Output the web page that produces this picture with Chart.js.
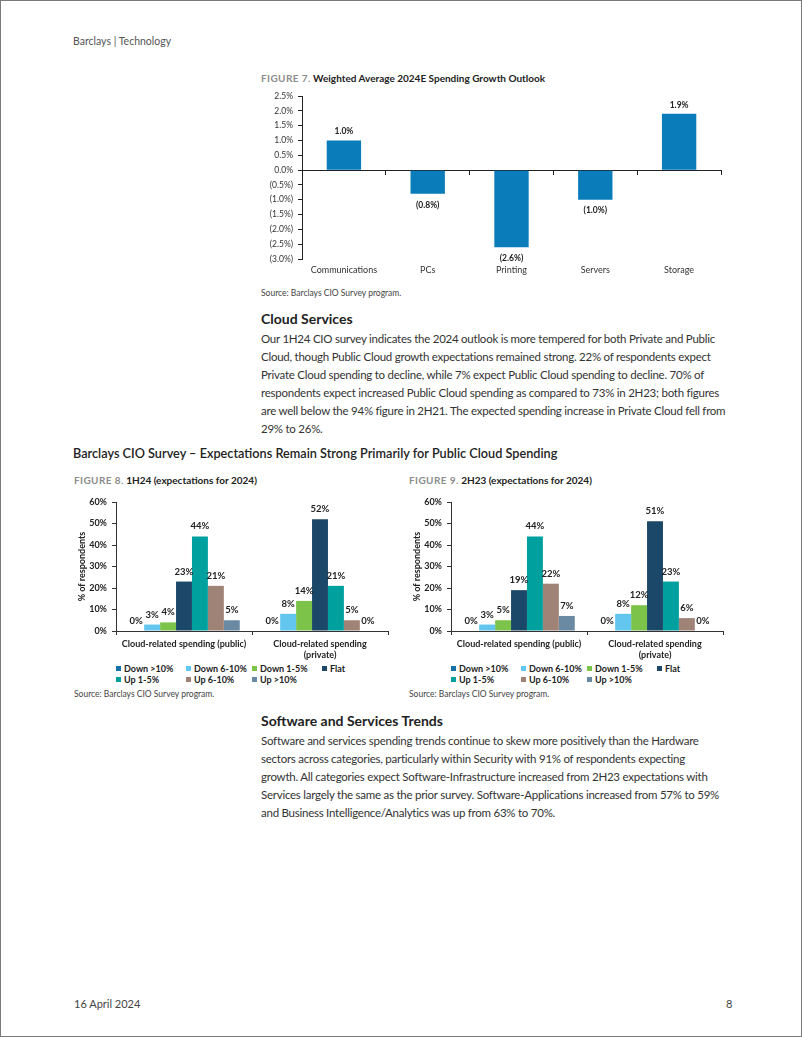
<!DOCTYPE html>
<html lang="en">
  <head>
    <meta charset="UTF-8" />
    <title>Barclays | Technology - page 8</title>
    <style>
      body {
        margin: 0;
        background: #fff;
        font-family: Lato, "Open Sans", sans-serif;
        color: #333;
      }
      .page {
        position: relative;
        width: 800px;
        height: 1035px;
        border: 1px solid #7a7a7a;
        overflow: hidden;
      }
      .abs {
        position: absolute;
        white-space: nowrap;
      }
      .header {
        left: 72px;
        top: 34px;
        font-size: 10.5px;
        color: #555;
      }
      .fig-title {
        font-size: 10px;
        font-weight: bold;
        color: #222;
      }
      .fig-title .num {
        color: #8c8c8c;
        letter-spacing: 0.4px;
      }
      .source {
        font-size: 8.5px;
        color: #444;
      }
      h2 {
        margin: 0;
        font-size: 14px;
        font-weight: bold;
        color: #222;
      }
      .para {
        font-size: 11.5px;
        line-height: 18px;
        letter-spacing: -0.25px;
        color: #333;
      }
      .section {
        left: 72px;
        top: 444px;
        font-size: 12.7px;
        font-weight: 600;
        color: #222;
      }
      canvas {
        position: absolute;
      }
      .legend {
        position: absolute;
        display: grid;
        grid-template-columns: 70px 66px 70px 50px;
        grid-auto-rows: 11px;
        font-size: 9px;
        font-weight: bold;
        color: #222;
      }
      .legend span {
        display: flex;
        align-items: center;
        white-space: nowrap;
      }
      .legend i {
        display: inline-block;
        width: 5px;
        height: 5px;
        margin-right: 3px;
      }
      .footer {
        top: 996px;
        font-size: 11px;
        color: #444;
      }
    </style>
  </head>
  <body>
    <div class="page">
      <div class="abs header">Barclays | Technology</div>

      <div class="abs fig-title" style="left: 260px; top: 71px">
        <span class="num">FIGURE 7.</span> Weighted Average 2024E Spending Growth Outlook
      </div>
      <canvas id="fig7" width="470" height="195" style="left: 255px; top: 85px"></canvas>
      <div class="abs source" style="left: 260px; top: 287px">Source: Barclays CIO Survey program.</div>

      <h2 class="abs" style="left: 260px; top: 309px">Cloud Services</h2>
      <div class="abs para" style="left: 260px; top: 329px">
        Our 1H24 CIO survey indicates the 2024 outlook is more tempered for both Private and Public<br />
        Cloud, though Public Cloud growth expectations remained strong. 22% of respondents expect<br />
        Private Cloud spending to decline, while 7% expect Public Cloud spending to decline. 70% of<br />
        respondents expect increased Public Cloud spending as compared to 73% in 2H23; both figures<br />
        are well below the 94% figure in 2H21. The expected spending increase in Private Cloud fell from<br />
        29% to 26%.
      </div>

      <div class="abs section">Barclays CIO Survey – Expectations Remain Strong Primarily for Public Cloud Spending</div>

      <div class="abs fig-title" style="left: 73px; top: 473px">
        <span class="num">FIGURE 8.</span> 1H24 (expectations for 2024)
      </div>
      <div class="abs fig-title" style="left: 408px; top: 473px">
        <span class="num">FIGURE 9.</span> 2H23 (expectations for 2024)
      </div>
      <canvas id="fig8" width="330" height="172" style="left: 70px; top: 490px"></canvas>
      <canvas id="fig9" width="330" height="172" style="left: 405px; top: 490px"></canvas>
      <div class="legend" id="legend8" style="left: 115px; top: 662px"></div>
      <div class="legend" id="legend9" style="left: 450px; top: 662px"></div>
      <div class="abs source" style="left: 73px; top: 688px">Source: Barclays CIO Survey program.</div>
      <div class="abs source" style="left: 408px; top: 688px">Source: Barclays CIO Survey program.</div>

      <h2 class="abs" style="left: 260px; top: 711px">Software and Services Trends</h2>
      <div class="abs para" style="left: 260px; top: 731px">
        Software and services spending trends continue to skew more positively than the Hardware<br />
        sectors across categories, particularly within Security with 91% of respondents expecting<br />
        growth. All categories expect Software-Infrastructure increased from 2H23 expectations with<br />
        Services largely the same as the prior survey. Software-Applications increased from 57% to 59%<br />
        and Business Intelligence/Analytics was up from 63% to 70%.
      </div>

      <div class="abs footer" style="left: 73px">16 April 2024</div>
      <div class="abs footer" style="left: 725px">8</div>
    </div>

    <script src="https://cdn.jsdelivr.net/npm/chart.js"></script>
    <script>
      // Figure 7 - weighted average spending growth (%)
      const segments = ["Communications", "PCs", "Printing", "Servers", "Storage"];
      const growth2024 = [1.0, -0.8, -2.6, -1.0, 1.9];

      // Figures 8 / 9 - % of respondents
      const cloudCategories = [
        "Cloud-related spending (public)",
        ["Cloud-related spending", "(private)"],
      ];
      const buckets = ["Down >10%", "Down 6-10%", "Down 1-5%", "Flat", "Up 1-5%", "Up 6-10%", "Up >10%"];
      const public1H24 = [0, 3, 4, 23, 44, 21, 5];
      const private1H24 = [0, 8, 14, 52, 21, 5, 0];
      const public2H23 = [0, 3, 5, 19, 44, 22, 7];
      const private2H23 = [0, 8, 12, 51, 23, 6, 0];

      const bucketColors = ["#1472a9", "#62c6ee", "#7cc34a", "#1b4868", "#00a09f", "#a08377", "#6a89a2"];
      const FONT = "Lato, 'Open Sans', sans-serif";

      // draws value labels above (or below for negatives) each bar
      const valueLabels = {
        id: "valueLabels",
        afterDatasetsDraw(chart, args, opts) {
          const ctx = chart.ctx;
          ctx.save();
          ctx.font = opts.font;
          ctx.fillStyle = opts.color;
          ctx.textAlign = "center";
          ctx.textBaseline = "middle";
          chart.data.datasets.forEach((ds, i) => {
            const meta = chart.getDatasetMeta(i);
            meta.data.forEach((bar, j) => {
              const v = ds.data[j];
              const y = v >= 0 ? bar.y - opts.above : bar.y + opts.below;
              ctx.fillText(opts.format(v), bar.x, y);
            });
          });
          ctx.restore();
        },
      };

      // builds a grid legend in the page from the chart's datasets
      const htmlLegend = {
        id: "htmlLegend",
        afterUpdate(chart, args, opts) {
          const box = document.getElementById(opts.containerID);
          if (!box) return;
          box.innerHTML = "";
          chart.data.datasets.forEach((ds) => {
            const item = document.createElement("span");
            const swatch = document.createElement("i");
            swatch.style.background = ds.backgroundColor;
            item.appendChild(swatch);
            item.appendChild(document.createTextNode(ds.label));
            box.appendChild(item);
          });
        },
      };

      const pct1 = (v) => (v < 0 ? "(" + Math.abs(v).toFixed(1) + "%)" : v.toFixed(1) + "%");

      new Chart(document.getElementById("fig7"), {
        type: "bar",
        data: {
          labels: segments,
          datasets: [
            {
              data: growth2024,
              backgroundColor: "#0a7cba",
              categoryPercentage: 1,
              barPercentage: 0.41,
            },
          ],
        },
        options: {
          responsive: false,
          animation: false,
          layout: { padding: { top: 10, right: 5, left: 0, bottom: 0 } },
          plugins: {
            legend: { display: false },
            tooltip: { enabled: false },
            valueLabels: {
              font: "bold 8.5px " + FONT,
              color: "#222",
              above: 9,
              below: 11,
              format: pct1,
            },
          },
          scales: {
            x: {
              grid: { display: false, drawTicks: false },
              border: { display: false },
              ticks: { font: { family: FONT, size: 9 }, color: "#333", padding: 6 },
              afterFit: (s) => { s.height = 22; },
            },
            x2: {
              type: "category",
              position: { y: 0 },
              offset: true,
              grid: { offset: true, drawOnChartArea: false, tickLength: 4, color: "#222" },
              border: { color: "#222", width: 1 },
              ticks: { display: false },
            },
            y: {
              min: -3,
              max: 2.5,
              grid: { drawOnChartArea: false, tickLength: 4, color: "#222" },
              border: { color: "#222", width: 1 },
              ticks: {
                stepSize: 0.5,
                padding: 5,
                font: { family: FONT, size: 8.5 },
                color: "#333",
                callback: (v) => pct1(v),
              },
              afterFit: (s) => { s.width = 46; },
            },
          },
        },
        plugins: [valueLabels],
      });

      function cloudChart(id, legendId, publicVals, privateVals) {
        const datasets = buckets.map((name, i) => ({
          label: name,
          data: [publicVals[i], privateVals[i]],
          backgroundColor: bucketColors[i],
          categoryPercentage: 0.82,
          barPercentage: 1,
        }));
        return new Chart(document.getElementById(id), {
          type: "bar",
          data: { labels: cloudCategories, datasets },
          options: {
            responsive: false,
            animation: false,
            layout: { padding: { top: 11, right: 13, left: 0, bottom: 0 } },
            plugins: {
              legend: { display: false },
              tooltip: { enabled: false },
              htmlLegend: { containerID: legendId },
              valueLabels: {
                font: "bold 9.5px " + FONT,
                color: "#222",
                above: 10,
                below: 10,
                format: (v) => v + "%",
              },
            },
            scales: {
              x: {
                offset: true,
                grid: { offset: true, drawOnChartArea: false, tickLength: 4, color: "#333" },
                border: { color: "#333", width: 1 },
                ticks: {
                  font: { family: FONT, size: 9, weight: "bold", lineHeight: 1.3 },
                  color: "#222",
                  padding: 3,
                  maxRotation: 0,
                },
                afterFit: (s) => { s.height = 32; },
              },
              y: {
                min: 0,
                max: 60,
                grid: { drawOnChartArea: false, tickLength: 4, color: "#333" },
                border: { color: "#333", width: 1 },
                title: {
                  display: true,
                  text: "% of respondents",
                  font: { family: FONT, size: 9, weight: "bold" },
                  color: "#222",
                  padding: { top: 6, bottom: 0 },
                },
                ticks: {
                  stepSize: 10,
                  padding: 5,
                  font: { family: FONT, size: 9, weight: "bold" },
                  color: "#222",
                  callback: (v) => v + "%",
                },
                afterFit: (s) => { s.width = 45; },
              },
            },
          },
          plugins: [valueLabels, htmlLegend],
        });
      }

      cloudChart("fig8", "legend8", public1H24, private1H24);
      cloudChart("fig9", "legend9", public2H23, private2H23);
    </script>
  </body>
</html>
